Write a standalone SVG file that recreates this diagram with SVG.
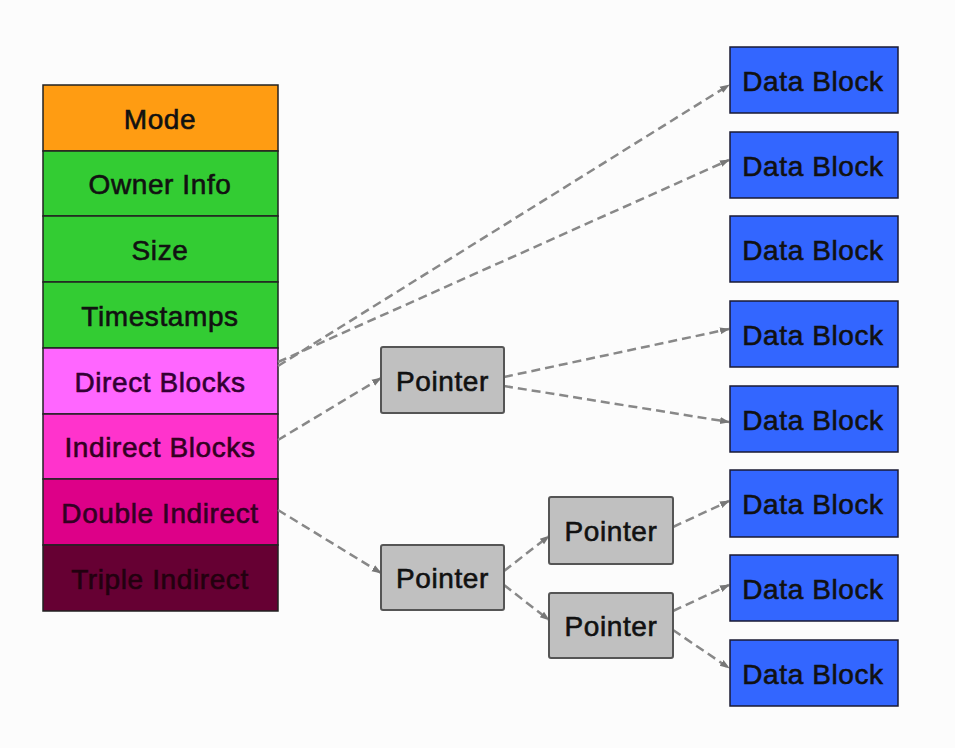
<svg xmlns="http://www.w3.org/2000/svg" width="955" height="748" viewBox="0 0 955 748">
<defs>
<style>
.t{font-family:"Liberation Sans",Arial,sans-serif;font-size:28px;letter-spacing:0.6px;text-anchor:middle;fill:#111;stroke:#111;stroke-width:0.6}
.row{stroke:#222;stroke-width:1.5}
.ptr{fill:#c0c0c0;stroke:#555;stroke-width:2}
.db{fill:#3366ff;stroke:#1a1a33;stroke-width:1.5}
.c{fill:none;stroke:#888;stroke-width:2.5;stroke-dasharray:9 5;marker-end:url(#ah)}
</style>
<marker id="ah" markerUnits="userSpaceOnUse" markerWidth="10" markerHeight="10" viewBox="0 0 10 10" refX="9" refY="5" orient="auto">
<path d="M0,1.5 L10,5 L0,8.5 z" fill="#777"/>
</marker>
</defs>
<rect width="955" height="748" fill="#fcfcfc"/>
<g id="inode">
<g id="mode"><rect class="row" x="43" y="85" width="235" height="66" fill="#ff9c12"/><text class="t" x="160" y="129">Mode</text></g>
<g id="owner"><rect class="row" x="43" y="151" width="235" height="65" fill="#33cc33"/><text class="t" x="160" y="194">Owner Info</text></g>
<g id="size"><rect class="row" x="43" y="216" width="235" height="66" fill="#33cc33"/><text class="t" x="160" y="260">Size</text></g>
<g id="timestamps"><rect class="row" x="43" y="282" width="235" height="66" fill="#33cc33"/><text class="t" x="160" y="326">Timestamps</text></g>
<g id="direct"><rect class="row" x="43" y="348" width="235" height="66" fill="#ff66ff"/><text class="t" x="160" y="392" style="fill:#330033;stroke:#330033">Direct Blocks</text></g>
<g id="indirect"><rect class="row" x="43" y="414" width="235" height="65" fill="#ff33cc"/><text class="t" x="160" y="457" style="fill:#330022;stroke:#330022">Indirect Blocks</text></g>
<g id="double"><rect class="row" x="43" y="479" width="235" height="66" fill="#dd0088"/><text class="t" x="160" y="523" style="fill:#330022;stroke:#330022">Double Indirect</text></g>
<g id="triple"><rect class="row" x="43" y="545" width="235" height="66" fill="#660033"/><text class="t" x="160" y="589" style="fill:#22000f;stroke:#22000f">Triple Indirect</text></g>
</g>
<g id="connectors">
<line class="c" x1="278" y1="366" x2="729" y2="85"/>
<line class="c" x1="278" y1="362" x2="729" y2="160"/>
<line class="c" x1="278" y1="440" x2="381" y2="378"/>
<line class="c" x1="504" y1="377" x2="729" y2="329"/>
<line class="c" x1="504" y1="386" x2="729" y2="422"/>
<line class="c" x1="278" y1="510" x2="381" y2="573"/>
<line class="c" x1="504" y1="571" x2="549" y2="536"/>
<line class="c" x1="504" y1="585" x2="549" y2="620"/>
<line class="c" x1="673" y1="527" x2="729" y2="501"/>
<line class="c" x1="673" y1="611" x2="729" y2="585"/>
<line class="c" x1="673" y1="630" x2="729" y2="668"/>
</g>
<g id="pointer1"><rect class="ptr" x="381" y="347" width="123" height="66" rx="2"/><text class="t" x="442.5" y="391">Pointer</text></g>
<g id="pointer2"><rect class="ptr" x="381" y="545" width="123" height="65" rx="2"/><text class="t" x="442.5" y="588">Pointer</text></g>
<g id="pointer3"><rect class="ptr" x="549" y="497" width="124" height="67" rx="2"/><text class="t" x="611" y="541">Pointer</text></g>
<g id="pointer4"><rect class="ptr" x="549" y="593" width="124" height="65" rx="2"/><text class="t" x="611" y="636">Pointer</text></g>
<g id="db1"><rect class="db" x="730" y="47" width="168" height="66"/><text class="t" x="813" y="91">Data Block</text></g>
<g id="db2"><rect class="db" x="730" y="132" width="168" height="66"/><text class="t" x="813" y="176">Data Block</text></g>
<g id="db3"><rect class="db" x="730" y="216" width="168" height="66"/><text class="t" x="813" y="260">Data Block</text></g>
<g id="db4"><rect class="db" x="730" y="301" width="168" height="66"/><text class="t" x="813" y="345">Data Block</text></g>
<g id="db5"><rect class="db" x="730" y="386" width="168" height="66"/><text class="t" x="813" y="430">Data Block</text></g>
<g id="db6"><rect class="db" x="730" y="470" width="168" height="67"/><text class="t" x="813" y="514">Data Block</text></g>
<g id="db7"><rect class="db" x="730" y="555" width="168" height="66"/><text class="t" x="813" y="599">Data Block</text></g>
<g id="db8"><rect class="db" x="730" y="640" width="168" height="66"/><text class="t" x="813" y="684">Data Block</text></g>
</svg>
